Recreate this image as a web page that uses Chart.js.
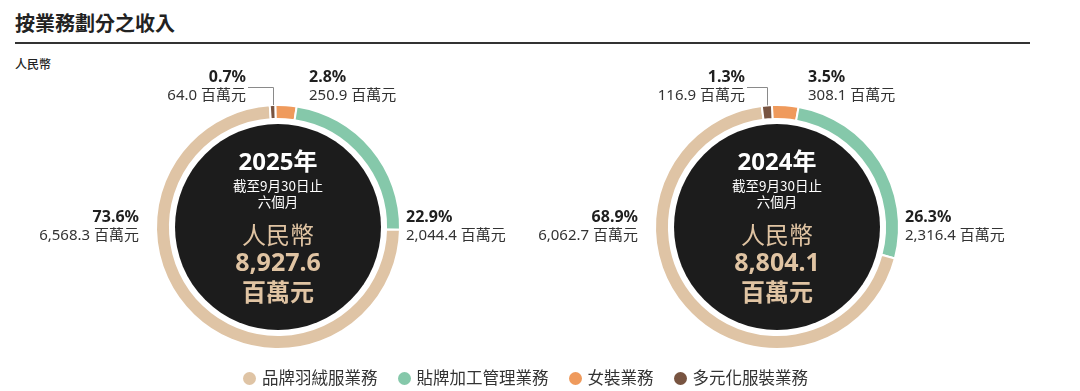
<!DOCTYPE html>
<html><head><meta charset="utf-8">
<script src="https://cdn.jsdelivr.net/npm/chart.js@4.4.0/dist/chart.umd.min.js"></script>
<style>
body{margin:0;width:1080px;height:391px;background:#fff;position:relative;overflow:hidden;font-family:'Noto Sans','Noto Sans CJK TC',sans-serif;}
#title{position:absolute;left:15px;top:9px;font-size:20px;font-weight:700;color:#222;font-family:'Noto Sans CJK TC',sans-serif;line-height:28px;}
#rule{position:absolute;left:15px;top:42px;width:1015px;height:2px;background:#333;}
#unit{position:absolute;left:15px;top:55px;font-size:12px;font-weight:500;color:#222;font-family:'Noto Sans CJK TC',sans-serif;line-height:18px;}
canvas{position:absolute;top:57px;}
#legend{position:absolute;left:243px;top:367px;display:flex;align-items:center;font-size:16.5px;color:#333;font-family:'Noto Sans','Noto Sans CJK TC',sans-serif;line-height:22px;z-index:2;}
#legend .it{display:flex;align-items:center;margin-right:20px;}
#legend .dot{width:13px;height:13px;border-radius:50%;margin-right:6px;}
</style></head>
<body>
<div id="title">按業務劃分之收入</div>
<div id="rule"></div>
<div id="unit">人民幣</div>
<canvas id="c2025" width="500" height="340" style="left:28px"></canvas>
<canvas id="c2024" width="500" height="340" style="left:527px"></canvas>
<div id="legend"></div>
<script>
// ---- data ----
const categories = ['品牌羽絨服業務','貼牌加工管理業務','女裝業務','多元化服裝業務'];
const colors = ['#dfc4a5','#85c8aa','#ef9a5c','#785441'];
const revenue2025 = [6568.3, 2044.4, 250.9, 64.0];
const revenue2024 = [6062.7, 2316.4, 308.1, 116.9];
const pct2025 = ['73.6%','22.9%','2.8%','0.7%'];
const pct2024 = ['68.9%','26.3%','3.5%','1.3%'];
const valueText2025 = ['6,568.3 百萬元','2,044.4 百萬元','250.9 百萬元','64.0 百萬元'];
const valueText2024 = ['6,062.7 百萬元','2,316.4 百萬元','308.1 百萬元','116.9 百萬元'];
const yearLabels = ['2025年','2024年'];
const totalLabels = ['8,927.6','8,804.1'];
const sliceOrder = [2,1,0,3]; // clockwise from top: 女裝, 貼牌, 品牌, 多元化

const FONT = "'Noto Sans','Noto Sans CJK TC',sans-serif";
const CJK = "'Noto Sans CJK TC','Noto Sans',sans-serif";

// legend
const lg = document.getElementById('legend');
categories.forEach((c,i)=>{
  const it=document.createElement('div');it.className='it';
  it.innerHTML='<span class="dot" style="background:'+colors[i]+'"></span><span>'+c+'</span>';
  lg.appendChild(it);
});

function makeChart(id, values, pcts, valueTexts, year, total){
  const ord = sliceOrder;
  const data = ord.map(i=>values[i]);
  const sum = data.reduce((a,b)=>a+b,0);
  const lastFrac = data[data.length-1]/sum;
  const deco = {
    id:'deco',
    beforeDatasetsDraw(chart){
      const a = chart.getDatasetMeta(0).data[0];
      const ctx = chart.ctx;
      ctx.save();
      ctx.fillStyle='#1c1c1c';
      ctx.beginPath();ctx.arc(a.x,a.y,103,0,Math.PI*2);ctx.fill();
      ctx.restore();
    },
    afterDatasetsDraw(chart){
      const arcs = chart.getDatasetMeta(0).data;
      const a0 = arcs[0];
      const cx=a0.x, cy=a0.y;
      const ctx = chart.ctx;
      ctx.save();
      ctx.textBaseline='middle';
      // center text
      ctx.textAlign='center';
      ctx.fillStyle='#ffffff';
      ctx.font='700 24px '+FONT;
      ctx.fillText(year,cx,cy-64);
      ctx.font='400 13.5px '+CJK;
      ctx.fillText('截至9月30日止',cx,cy-41);
      ctx.fillText('六個月',cx,cy-25);
      ctx.fillStyle='#e0c4a3';
      ctx.font='400 24px '+CJK;
      ctx.fillText('人民幣',cx,cy+8);
      ctx.font='700 25px '+FONT;
      ctx.fillText(total,cx,cy+37);
      ctx.font='700 24px '+CJK;
      ctx.fillText('百萬元',cx,cy+65);

      function label(i, x, yp, align){
        ctx.textAlign=align;
        ctx.fillStyle='#1f1f1f';
        ctx.font='700 16px '+FONT;
        ctx.fillText(pcts[i],x,yp);
        ctx.fillStyle='#333';
        ctx.font='400 15px '+FONT;
        ctx.fillText(valueTexts[i],x,yp+19);
      }
      label(0, cx-139, cy-10, 'right');
      label(1, cx+128, cy-10, 'left');
      label(2, cx+31, cy-150, 'left');
      label(3, cx-32, cy-150, 'right');
      // leader line for the small slice
      const b = arcs[3];
      const mid = (b.startAngle+b.endAngle)/2;
      const px = cx + Math.cos(mid)*b.outerRadius;
      const py = cy + Math.sin(mid)*b.outerRadius;
      ctx.strokeStyle='#8a8a8a';
      ctx.lineWidth=1;
      ctx.beginPath();
      ctx.moveTo(Math.round(px)+0.5,py);
      ctx.lineTo(Math.round(px)+0.5,cy-139.5);
      ctx.lineTo(cx-30,cy-139.5);
      ctx.stroke();
      ctx.restore();
    }
  };
  return new Chart(document.getElementById(id),{
    type:'doughnut',
    data:{labels:ord.map(i=>categories[i]),datasets:[{
      data:data,
      backgroundColor:ord.map(i=>colors[i]),
      borderColor:'#ffffff',
      borderWidth:2,
      radius:122,
      cutout:'88.6%'
    }]},
    options:{
      responsive:false,animation:false,events:[],
      rotation:-lastFrac*180,
      layout:{padding:0},
      plugins:{legend:{display:false},tooltip:{enabled:false}}
    },
    plugins:[deco]
  });
}
makeChart('c2025', revenue2025, pct2025, valueText2025, yearLabels[0], totalLabels[0]);
makeChart('c2024', revenue2024, pct2024, valueText2024, yearLabels[1], totalLabels[1]);
</script>
</body></html>
